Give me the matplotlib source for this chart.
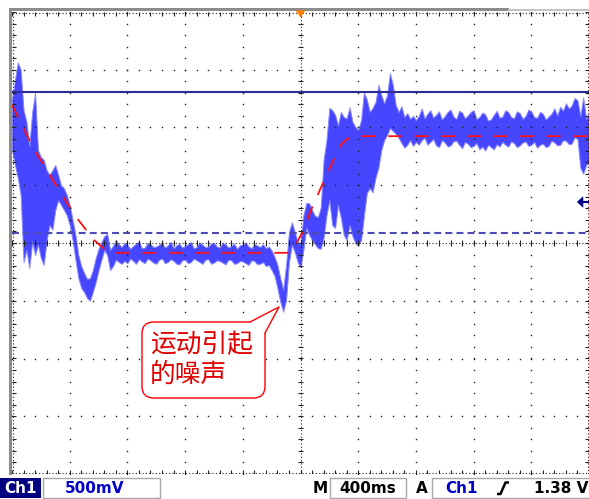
import numpy as np
import matplotlib.pyplot as plt
from matplotlib.patches import FancyBboxPatch, Polygon, Rectangle
from matplotlib.collections import LineCollection

plt.rcParams['font.family'] = ['Noto Sans CJK SC', 'DejaVu Sans']
plt.rcParams['lines.scale_dashes'] = False

# screen is 10 x 8 divisions, 400 ms/div, 500 mV/div; values read in divisions
t_div = [0.00, 0.05, 0.10, 0.15, 0.20, 0.25, 0.30, 0.35, 0.40, 0.45,
         0.50, 0.55, 0.60, 0.65, 0.70, 0.75, 0.80, 0.85, 0.90, 0.95,
         1.00, 1.05, 1.10, 1.15, 1.20, 1.25, 1.30, 1.35, 1.40, 1.45,
         1.50, 1.55, 1.60, 1.65, 1.70, 1.75, 1.80, 1.85, 1.90, 1.95,
         2.00, 2.05, 2.10, 2.15, 2.20, 2.25, 2.30, 2.35, 2.40, 2.45,
         2.50, 2.55, 2.60, 2.65, 2.70, 2.75, 2.80, 2.85, 2.90, 2.95,
         3.00, 3.05, 3.10, 3.15, 3.20, 3.25, 3.30, 3.35, 3.40, 3.45,
         3.50, 3.55, 3.60, 3.65, 3.70, 3.75, 3.80, 3.85, 3.90, 3.95,
         4.00, 4.05, 4.10, 4.15, 4.20, 4.25, 4.30, 4.35, 4.40, 4.45,
         4.50, 4.55, 4.60, 4.65, 4.70, 4.75, 4.80, 4.85, 4.90, 4.95,
         5.00, 5.05, 5.10, 5.15, 5.20, 5.25, 5.30, 5.35, 5.40, 5.45,
         5.50, 5.55, 5.60, 5.65, 5.70, 5.75, 5.80, 5.85, 5.90, 5.95,
         6.00, 6.05, 6.10, 6.15, 6.20, 6.25, 6.30, 6.35, 6.40, 6.45,
         6.50, 6.55, 6.60, 6.65, 6.70, 6.75, 6.80, 6.85, 6.90, 6.95,
         7.00, 7.05, 7.10, 7.15, 7.20, 7.25, 7.30, 7.35, 7.40, 7.45,
         7.50, 7.55, 7.60, 7.65, 7.70, 7.75, 7.80, 7.85, 7.90, 7.95,
         8.00, 8.05, 8.10, 8.15, 8.20, 8.25, 8.30, 8.35, 8.40, 8.45,
         8.50, 8.55, 8.60, 8.65, 8.70, 8.75, 8.80, 8.85, 8.90, 8.95,
         9.00, 9.05, 9.10, 9.15, 9.20, 9.25, 9.30, 9.35, 9.40, 9.45,
         9.50, 9.55, 9.60, 9.65, 9.70, 9.75, 9.80, 9.85, 9.90, 9.95,
         10.00]

# upper / lower edge of the noisy Ch1 trace
ch1_hi = [2.48, 2.82, 3.13, 3.00, 2.30, 2.10, 1.68, 2.27, 2.60, 1.61,
          1.49, 1.44, 1.26, 1.18, 1.26, 1.35, 1.18, 1.00, 0.95, 0.83,
          0.66, 0.40, 0.14, -0.21, -0.40, -0.52, -0.62, -0.61, -0.47, -0.26,
          -0.10, 0.02, 0.12, 0.16, -0.12, -0.05, 0.05, -0.02, -0.07, 0.00,
          -0.03, -0.10, -0.05, -0.01, 0.03, -0.09, -0.08, 0.00, -0.02, -0.07,
          -0.06, -0.03, 0.01, -0.08, -0.04, 0.02, -0.09, -0.04, -0.01, -0.08,
          -0.05, -0.02, 0.02, -0.09, -0.07, 0.01, -0.03, -0.07, -0.06, -0.01,
          0.00, -0.06, -0.08, 0.00, -0.02, -0.08, -0.05, -0.01, -0.10, -0.04,
          -0.03, 0.01, -0.06, -0.09, -0.02, -0.04, -0.07, -0.02, -0.09, -0.06,
          -0.13, -0.24, -0.38, -0.61, -0.81, -0.38, 0.19, 0.36, 0.19, 0.02,
          -0.03, 0.48, 0.69, 0.69, 0.57, 0.47, 0.45, 0.61, 1.44, 1.78,
          2.34, 2.30, 2.22, 2.04, 2.27, 2.18, 2.16, 2.35, 2.10, 2.01,
          1.96, 2.13, 2.61, 2.48, 2.27, 2.34, 2.44, 2.74, 2.56, 2.42,
          2.56, 2.94, 2.74, 2.39, 2.27, 2.37, 2.18, 2.25, 2.15, 2.20,
          2.13, 2.20, 2.33, 2.16, 2.24, 2.30, 2.17, 2.22, 2.28, 2.14,
          2.20, 2.27, 2.31, 2.19, 2.15, 2.29, 2.26, 2.16, 2.21, 2.27,
          2.30, 2.15, 2.18, 2.26, 2.23, 2.12, 2.14, 2.22, 2.29, 2.17,
          2.19, 2.30, 2.27, 2.18, 2.16, 2.28, 2.25, 2.15, 2.20, 2.31,
          2.28, 2.18, 2.17, 2.27, 2.24, 2.14, 2.19, 2.24, 2.33, 2.21,
          2.36, 2.29, 2.42, 2.33, 2.38, 2.51, 2.47, 2.20, 2.52, 2.15,
          2.25]
ch1_lo = [1.61, 1.35, 1.13, 0.83, -0.33, -0.12, -0.43, 0.02, -0.21, -0.03,
          -0.26, -0.38, 0.05, 0.31, 0.23, 0.57, 0.74, 0.66, 0.57, 0.48,
          0.31, 0.05, -0.29, -0.61, -0.78, -0.85, -0.95, -1.00, -0.85, -0.68,
          -0.47, -0.29, -0.12, -0.21, -0.47, -0.40, -0.29, -0.33, -0.36, -0.31,
          -0.35, -0.27, -0.31, -0.36, -0.28, -0.32, -0.35, -0.27, -0.30, -0.34,
          -0.36, -0.29, -0.27, -0.35, -0.33, -0.28, -0.31, -0.36, -0.37, -0.30,
          -0.29, -0.35, -0.33, -0.27, -0.30, -0.33, -0.36, -0.29, -0.28, -0.36,
          -0.34, -0.30, -0.31, -0.34, -0.37, -0.29, -0.30, -0.36, -0.35, -0.31,
          -0.32, -0.35, -0.38, -0.30, -0.31, -0.37, -0.36, -0.33, -0.40, -0.38,
          -0.47, -0.57, -0.78, -1.02, -1.19, -0.99, -0.33, -0.03, -0.16, -0.33,
          -0.42, -0.12, 0.26, 0.14, 0.05, -0.02, -0.09, -0.10, 0.09, 0.48,
          0.74, 0.31, 0.26, 0.66, 0.43, 0.14, 0.05, 0.31, 0.12, 0.00,
          -0.05, 0.05, 0.48, 0.87, 0.95, 0.88, 1.13, 1.30, 1.61, 1.78,
          1.87, 1.99, 1.94, 1.89, 1.82, 1.73, 1.65, 1.70, 1.78, 1.68,
          1.75, 1.70, 1.78, 1.82, 1.70, 1.75, 1.80, 1.69, 1.66, 1.78,
          1.74, 1.67, 1.69, 1.76, 1.77, 1.70, 1.64, 1.75, 1.72, 1.66,
          1.68, 1.73, 1.62, 1.67, 1.60, 1.70, 1.66, 1.62, 1.71, 1.67,
          1.75, 1.70, 1.67, 1.76, 1.73, 1.66, 1.69, 1.74, 1.76, 1.68,
          1.70, 1.75, 1.65, 1.70, 1.72, 1.66, 1.68, 1.77, 1.74, 1.69,
          1.70, 1.78, 1.77, 1.71, 1.72, 1.83, 1.80, 1.30, 1.20, 1.35,
          1.40]

# red dashed reference (ideal response)
ref_t = [0.00, 0.156, 0.364, 0.624, 0.867, 1.127, 1.404, 1.594, 1.733,
         4.731, 4.783, 4.905, 5.026, 5.199, 5.390, 5.598, 5.702, 5.806, 5.927, 10.0]
ref_v = [2.39, 2.08, 1.65, 1.23, 0.83, 0.43, 0.07, -0.10, -0.17,
         -0.17, -0.17, -0.05, 0.17, 0.61, 1.04, 1.49, 1.70, 1.80, 1.85, 1.85]

cursor_solid = 2.615
cursor_dash = 0.168
trig_level = 0.71
trig_pos = 5.0

note = "运动引起\n的噪声"
ch_label, volts_label = "Ch1", "500mV"
time_label, trig_label = "400ms", "1.38 V"

W, H = 589, 499
fig = plt.figure(figsize=(W / 100, H / 100), dpi=100)

# background axes in pixel units for frame and status bar
bg = fig.add_axes([0, 0, 1, 1], zorder=0)
bg.set_xlim(0, W)
bg.set_ylim(H, 0)
bg.axis('off')
bg.add_patch(Rectangle((8.5, 8), 3.5, 467, color='#8c8c8c', lw=0))
bg.add_patch(Rectangle((8.5, 7.5), 500, 3, color='#8c8c8c', lw=0))
bg.add_patch(Rectangle((508, 8.5), 81, 2, color='#c4c4c4', lw=0))

fs = 11
st = dict(fontsize=fs, fontweight='bold', va='center', family='DejaVu Sans')
bg.add_patch(Rectangle((0, 478), 41, 20, color='#000080', lw=0))
bg.text(20.5, 488.5, ch_label, color='white', ha='center', **st)
bg.add_patch(Rectangle((43, 478), 117, 20, fc='white', ec='#a8a8a8', lw=1))
bg.text(65, 488.5, volts_label, color='#0000c8', ha='left', **st)
bg.text(320, 488.5, "M", color='black', ha='center', **st)
bg.add_patch(Rectangle((330, 478), 76, 20, fc='white', ec='#a8a8a8', lw=1))
bg.text(368, 488.5, time_label, color='black', ha='center', **st)
bg.text(422, 488.5, "A", color='black', ha='center', **st)
bg.add_patch(Rectangle((432, 478), 165, 20, fc='white', ec='#a8a8a8', lw=1))
bg.text(445, 488.5, ch_label, color='#0000c8', ha='left', **st)
bg.plot([497, 500.5, 505.5, 509], [494, 494, 482.5, 482.5], color='black',
        lw=1.8, solid_capstyle='butt')
bg.text(588, 488.5, trig_label, color='black', ha='right', **st)

ax = fig.add_axes([12 / W, (H - 474) / H, 577 / W, 462 / H], zorder=1)
ax.set_xlim(0, 10)
ax.set_ylim(-4, 4)
ax.axis('off')

# trace
ax.fill_between(t_div, ch1_lo, ch1_hi, facecolor='#4646ff', edgecolor='#8a8aff',
                lw=0.7, zorder=3)

# cursors and reference
ax.axhline(cursor_solid, color='#2c2c96', lw=1.5, zorder=4)
ax.axhline(cursor_dash, color='#4c4cb4', lw=1.5, ls=(0, (5, 3)), zorder=4)
ax.plot(ref_t, ref_v, color='#ff1010', lw=1.3, ls=(0, (10, 9)), zorder=4)

# graticule
minor_x = np.arange(0, 10.001, 0.2)
minor_y = np.arange(-4, 4.001, 0.2)
dot = dict(ls='none', marker='s', ms=1.0, mew=0, color='#1a1a1a', zorder=5)
for gx in [1, 2, 3, 4, 6, 7, 8, 9]:
    ax.plot(np.full_like(minor_y, gx), minor_y, **dot)
for gy in [-3, -2, -1, 1, 2, 3]:
    ax.plot(minor_x, np.full_like(minor_x, gy), **dot)

fine = dict(color='#202020', lw=0.8, ls=(0, (0.8, 1.6)), zorder=5)
ax.plot([trig_pos, trig_pos], [-4, 4], **fine)
ax.plot([0, 10], [0, 0], **fine)
ax.plot([0.01, 0.01], [-4, 4], **fine)
ax.plot([9.99, 9.99], [-4, 4], **fine)
ax.plot([0, 10], [3.99, 3.99], **fine)
ax.plot([0, 10], [-3.99, -3.99], **fine)

tk = 0.05
segs = []
for yy in minor_y:
    segs.append([(trig_pos - tk, yy), (trig_pos + tk, yy)])
    segs.append([(0, yy), (0.07, yy)])
    segs.append([(9.93, yy), (10, yy)])
for xx in minor_x:
    segs.append([(xx, -tk), (xx, tk)])
    segs.append([(xx, 4), (xx, 3.93)])
    segs.append([(xx, -4), (xx, -3.93)])
ax.add_collection(LineCollection(segs, colors='#222222', lw=0.8, zorder=5))

# trigger position and level markers
ax.add_patch(Polygon([(trig_pos - 0.09, 4.03), (trig_pos + 0.09, 4.03),
                      (trig_pos, 3.91)], closed=True, color='#ff7f00',
                     lw=0, zorder=6, clip_on=False))
ax.add_patch(Polygon([(9.79, trig_level), (9.90, trig_level + 0.1),
                      (9.90, trig_level - 0.1)], closed=True, color='#00008b',
                     lw=0, zorder=6, clip_on=False))
ax.plot([9.88, 10.0], [trig_level, trig_level], color='#00008b', lw=1.5,
        zorder=6, clip_on=False)

# callout
r = 0.2
bx0, by0, bx1, by1 = 2.253, -2.684, 4.385, -1.368
ax.add_patch(FancyBboxPatch((bx0 + r, by0 + r), bx1 - bx0 - 2 * r, by1 - by0 - 2 * r,
                            boxstyle=f"round,pad={r}", fc='white', ec='#ff0000',
                            lw=1.0, zorder=7))
tip = (4.627, -1.108)
b1 = (4.125, by1)
b2 = (bx1, -1.558)
ax.add_patch(Polygon([b1, tip, b2, (4.125, -1.558)], closed=True, fc='white',
                     lw=0, zorder=8))
ax.plot([b1[0], tip[0], b2[0]], [b1[1], tip[1], b2[1]], color='#ff0000',
        lw=1.0, zorder=9)
ax.text(2.39, -2.02, note, color='#e00000', fontsize=18.5, ha='left',
        va='center', linespacing=1.2, zorder=10)

fig.savefig('out.png', dpi=100)
